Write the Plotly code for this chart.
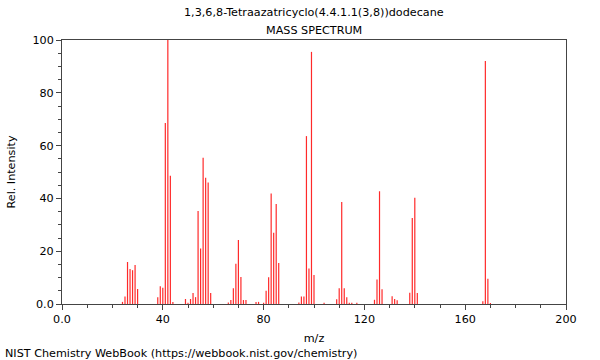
import plotly.graph_objects as go

mz = [24, 25, 26, 27, 28, 29, 30, 38, 39, 40, 41, 42, 43, 44,
      49, 50, 51, 52, 53, 54, 55, 56, 57, 58, 59,
      66, 67, 68, 69, 70, 71, 72, 73, 77, 78, 80, 81, 82, 83, 84, 85, 86,
      94, 95, 96, 97, 98, 99, 100, 104,
      109, 110, 111, 112, 113, 114, 115, 117,
      124, 125, 126, 127, 131, 132, 133, 138, 139, 140, 141,
      167, 168, 169, 170]
intensity = [0.8, 2.8, 15.9, 13.3, 12.8, 14.8, 5.7, 2.6, 6.7, 6.2, 68.6, 100, 48.6, 0.8,
             1.9, 0.5, 1.9, 4.2, 2.6, 35.2, 21.0, 55.4, 47.8, 46.0, 4.2,
             0.6, 1.5, 6.0, 15.2, 24.2, 10.2, 1.5, 1.5, 0.8, 0.8, 0.5, 5.0, 10.1, 41.9, 27.0, 37.9, 15.5,
             0.6, 2.8, 2.8, 63.6, 13.4, 95.5, 11.0, 0.5,
             1.8, 6.0, 38.6, 6.0, 2.6, 0.5, 0.5, 0.5,
             1.6, 9.3, 42.7, 5.6, 2.9, 1.9, 1.4, 4.3, 32.6, 40.2, 4.2,
             1.0, 92.0, 9.6, 0.4]

x_tickvals = [0, 40, 80, 120, 160, 200]
x_ticktext = ["0.0", "40", "80", "120", "160", "200"]
y_tickvals = [0, 20, 40, 60, 80, 100]
y_ticktext = ["0.0", "20", "40", "60", "80", "100"]

title_line1 = "1,3,6,8-Tetraazatricyclo(4.4.1.1(3,8))dodecane"
title_line2 = "MASS SPECTRUM"
footer_text = "NIST Chemistry WebBook (https://webbook.nist.gov/chemistry)"

font_family = "DejaVu Sans"
axis_color = "#444444"
W, H = 600, 360
L, R, T, B = 62, 34, 40, 56
FS = 11.2

# stick spectrum: one vertical segment per peak
xs, ys = [], []
for m, v in zip(mz, intensity):
    xs += [m, m, None]
    ys += [0, v, None]

fig = go.Figure()
fig.add_trace(go.Scatter(
    x=xs, y=ys, mode="lines",
    line=dict(color="#ff2a2a", width=1.2),
    hoverinfo="skip",
))

fig.update_layout(
    width=W, height=H,
    margin=dict(l=L, r=R, t=T, b=B),
    paper_bgcolor="white", plot_bgcolor="white",
    showlegend=False,
    font=dict(family=font_family, size=FS, color="black"),
)

fig.update_xaxes(
    range=[0, 200], tickvals=x_tickvals, ticktext=x_ticktext,
    showgrid=False, zeroline=False,
    showline=True, linecolor=axis_color, linewidth=1, mirror=True,
    ticks="outside", ticklen=5, tickcolor=axis_color,
    minor=dict(dtick=10, ticks="outside", ticklen=3, tickcolor=axis_color, showgrid=False),
    tickfont=dict(size=FS),
    title=dict(text="m/z", font=dict(size=FS), standoff=8),
)
fig.update_yaxes(
    range=[0, 100], tickvals=y_tickvals, ticktext=y_ticktext,
    showgrid=False, zeroline=False,
    showline=True, linecolor=axis_color, linewidth=1, mirror=True,
    ticks="outside", ticklen=5, tickcolor=axis_color,
    minor=dict(dtick=5, ticks="outside", ticklen=3, tickcolor=axis_color, showgrid=False),
    tickfont=dict(size=FS),
    title=dict(text="Rel. Intensity", font=dict(size=FS), standoff=14),
)

pw, ph = W - L - R, H - T - B

def px_to_paper(px, py):
    return (px - L) / pw, (H - B - py) / ph

for text, cy in [(title_line1, 13), (title_line2, 30)]:
    xx, yy = px_to_paper(314, cy)
    fig.add_annotation(text=text, xref="paper", yref="paper", x=xx, y=yy,
                       xanchor="center", yanchor="middle", showarrow=False,
                       font=dict(family=font_family, size=FS, color="black"))

fx, fy = px_to_paper(3, 353)
fig.add_annotation(text=footer_text, xref="paper", yref="paper", x=fx, y=fy,
                   xanchor="left", yanchor="middle", showarrow=False,
                   font=dict(family=font_family, size=FS, color="black"))

fig.write_html("out.html", config={"displayModeBar": False},
               post_script="document.body.style.margin='0';document.body.style.padding='0';")
